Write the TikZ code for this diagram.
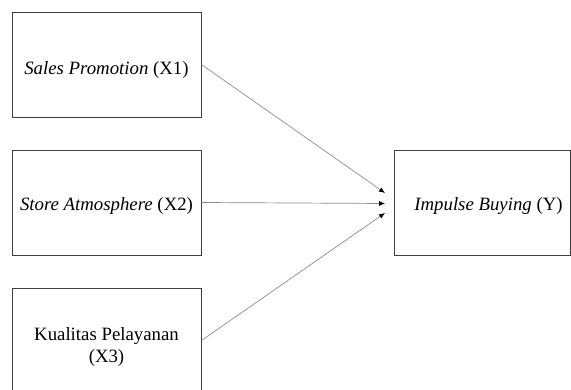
\documentclass[tikz,border=0pt]{standalone}
\usepackage{fontspec}
\setmainfont{Liberation Serif}[ItalicFont={Liberation Serif Italic},BoldFont={Liberation Serif Bold}]
\usetikzlibrary{arrows.meta}
\begin{document}
\begin{tikzpicture}[x=1pt,y=-1pt,
  box/.style={draw=black!75,line width=0.9pt,minimum width=189pt,minimum height=105pt,inner sep=0pt},
  lbl/.style={font=\fontsize{18.8}{22}\selectfont,align=center,inner sep=0pt},
  conn/.style={draw=black!45,line width=0.7pt,-{Latex[length=6pt,width=5pt,color=black]}}]
\useasboundingbox (0,0) rectangle (571,390);
\clip (0,0) rectangle (571,390);
\node[box] (b1) at (106.5,64.5) {};
\node[lbl,yshift=-5pt] (t1) at (b1.center) {\textit{Sales Promotion} (X1)};
\node[box] (b2) at (106.5,202.5) {};
\node[lbl,yshift=-3.5pt] (t2) at (b2.center) {\textit{Store Atmosphere} (X2)};
\node[box] (b3) at (106.5,340.5) {};
\node[lbl,yshift=-6.5pt] (t3) at (b3.center) {Kualitas Pelayanan\\(X3)};
\node[box,minimum width=176pt] (y) at (482,203) {};
\node[lbl,xshift=6.5pt,yshift=-3.5pt] (ty) at (y.center) {\textit{Impulse Buying} (Y)};
\coordinate (e1) at (385,193);
\coordinate (e2) at (385,203.5);
\coordinate (e3) at (385,213);
\draw[conn] (b1.east) -- (e1);
\draw[conn] (b2.east) -- (e2);
\draw[conn] (b3.east) -- (e3);
\end{tikzpicture}
\end{document}
